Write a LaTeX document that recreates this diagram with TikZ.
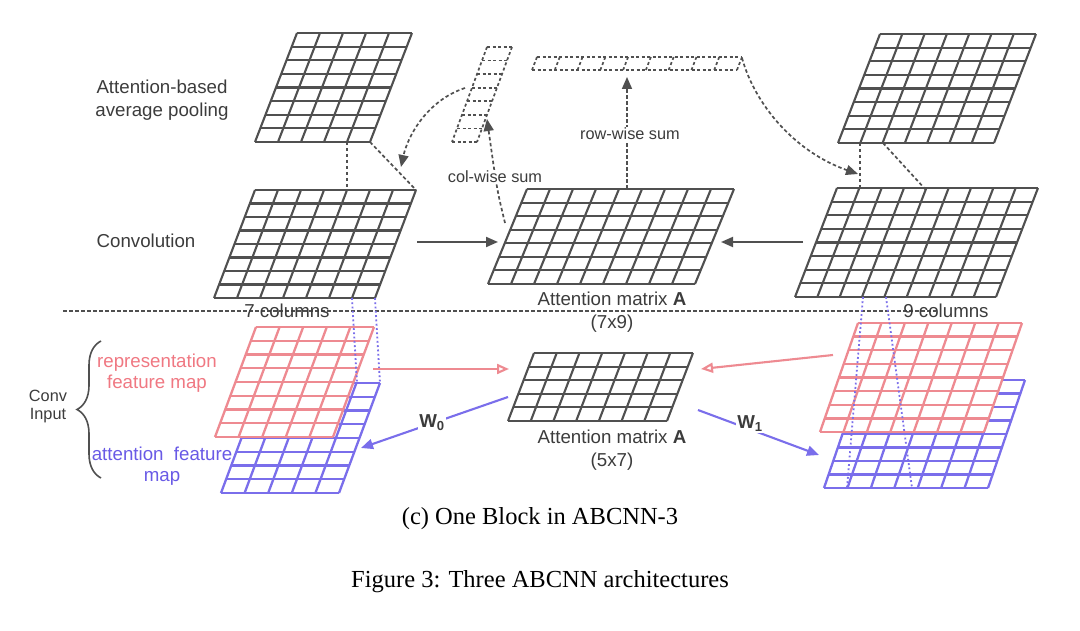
\documentclass[tikz,border=0pt]{standalone}
\usepackage{fontspec}
\setmainfont{Liberation Sans}
\newfontfamily\capfont{Liberation Serif}
\usetikzlibrary{arrows.meta,decorations.pathreplacing}
\definecolor{gline}{RGB}{80,80,80}
\definecolor{gtext}{RGB}{60,60,60}
\definecolor{rline}{RGB}{238,138,145}
\definecolor{bline}{RGB}{122,110,235}
\definecolor{rtext}{RGB}{240,120,130}
\definecolor{btext}{RGB}{105,90,230}
% #1 style, #2 top-left x, #3 top y, #4 bottom-left x, #5 bottom y, #6 width, #7 cols, #8 rows
\newcommand\SkGrid[8]{%
  \fill[white] ({#2},{#3}) -- ({#2+#6},{#3}) -- ({#4+#6},{#5}) -- ({#4},{#5}) -- cycle;
  \foreach \i in {0,...,#8}{\draw[#1] ({#2+(#4-#2)*\i/#8},{#3+(#5-#3)*\i/#8}) -- ++({#6},0);}
  \foreach \j in {0,...,#7}{\draw[#1] ({#2+#6*\j/#7},{#3}) -- ({#4+#6*\j/#7},{#5});}
}
\tikzset{
  gg/.style={draw=gline,line width=2.1bp},
  rg/.style={draw=rline,line width=2.3bp},
  bg/.style={draw=bline,line width=2.3bp},
  dg/.style={draw=gline,line width=1.7bp,dash pattern=on 3bp off 2.5bp},
  dconn/.style={draw=gline,line width=1.7bp,dash pattern=on 3.5bp off 2.5bp},
  bdot/.style={draw=bline,line width=1.8bp,dash pattern=on 1.8bp off 2.5bp},
  tipg/.style={-{Triangle[length=12bp,width=10bp]}},
  lab/.style={font=\fontsize{18.7bp}{23bp}\selectfont,text=gtext,inner sep=1bp,align=center},
  slab/.style={font=\fontsize{16.3bp}{18bp}\selectfont,text=gtext,inner sep=1bp,align=center},
  caplab/.style={font=\capfont\fontsize{24.5bp}{28bp}\selectfont,text=black,inner sep=0pt},
}
\begin{document}
\begin{tikzpicture}[x=1bp,y=-1bp]
\useasboundingbox[fill=white] (0,0) rectangle (1080,631);

% ---- grids ----
\SkGrid{gg}{297}{33}{255}{142}{115}{5}{8}      % pooling left
\SkGrid{gg}{880}{34}{838}{143}{156}{7}{8}      % pooling right
\SkGrid{gg}{255}{190}{214}{298}{161}{7}{8}     % conv left
\SkGrid{gg}{527}{189}{488}{284}{207}{9}{7}     % A 7x9
\SkGrid{gg}{837}{188}{795}{297}{201}{9}{8}     % conv right
\SkGrid{gg}{534}{353}{508}{421}{159}{7}{5}     % A 5x7
\SkGrid{bg}{262}{383}{221}{493}{118}{5}{8}     % attention fm left
\SkGrid{rg}{256}{327}{215}{437}{118}{5}{8}     % representation fm left
\SkGrid{bg}{861}{380}{824}{488}{164}{7}{8}     % attention fm right
\SkGrid{rg}{858}{323}{820}{432}{164}{7}{8}     % representation fm right
% dashed sum vectors
\SkGrid{dg}{487}{47}{452}{142}{25}{1}{7}       % col-wise
\SkGrid{dg}{537}{57}{532}{70}{205}{9}{1}       % row-wise

% ---- coordinates ----
\coordinate (pl4) at (347,142);  \coordinate (cl4) at (347,190);
\coordinate (pl5) at (370,142);  \coordinate (cl7) at (416,190);
\coordinate (pr1) at (860,143);  \coordinate (cr1) at (860,190);
\coordinate (pr2) at (883,143);  \coordinate (cr4) at (926,190);
\coordinate (colA) at (505,223); \coordinate (colV) at (487,119);
\coordinate (colL) at (465,88);  \coordinate (convLtr) at (401,167);
\coordinate (rowA) at (627,189); \coordinate (rowV) at (627,77);
\coordinate (rowR) at (742,58);  \coordinate (convRtl) at (858,174);
\coordinate (cL) at (417,242); \coordinate (aL) at (498,242);
\coordinate (cR) at (803,242); \coordinate (aR) at (721,242);
\coordinate (rL) at (373,369); \coordinate (mL) at (509,369);
\coordinate (rR) at (833,355); \coordinate (mR) at (701,369);
\coordinate (mB0) at (508,397); \coordinate (bL) at (361,448);
\coordinate (mB1) at (698,410); \coordinate (bR) at (819,455);
\coordinate (sepA) at (63,311); \coordinate (sepB) at (936,311);
\coordinate (d1a) at (352,298); \coordinate (d1b) at (357,383);
\coordinate (d2a) at (375,298); \coordinate (d2b) at (380,383);
\coordinate (d3a) at (863,297); \coordinate (d3b) at (847,488);
\coordinate (d4a) at (886,297); \coordinate (d4b) at (912,488);

% ---- dashed connectors ----
\draw[dconn] (pl4) -- (cl4);
\draw[dconn] (pl5) -- (cl7);
\draw[dconn] (pr1) -- (cr1);
\draw[dconn] (pr2) -- (cr4);
\draw[dconn,tipg] (colA) .. controls (497,190) .. (colV);
\draw[dconn,tipg] (colL) .. controls (428,100) and (408,135) .. (convLtr);
\draw[dconn,tipg] (rowA) -- (rowV);
\draw[dconn,tipg] (rowR) .. controls (755,105) and (795,152) .. (convRtl);
\node[slab,fill=white] (colsum) at (495,177) {col-wise sum};
\node[slab,fill=white] (rowsum) at (630,134) {row-wise sum};

% separator
\draw[dconn] (sepA) -- (sepB);
\node[lab] (c7) at (287,311) {7 columns};
\node[lab] (c9) at (946,311) {9 columns};

% dotted column links
\draw[bdot] (d1a) -- (d1b);
\draw[bdot] (d2a) -- (d2b);
\draw[bdot] (d3a) -- (d3b);
\draw[bdot] (d4a) -- (d4b);

% ---- solid arrows ----
\draw[gline,line width=1.9bp,tipg] (cL) -- (aL);
\draw[gline,line width=1.9bp,tipg] (cR) -- (aR);
\draw[rline,line width=2.1bp,-{Triangle[open,length=12bp,width=10bp]}] (rL) -- (mL);
\draw[rline,line width=2.1bp,-{Triangle[open,length=12bp,width=10bp]}] (rR) -- (mR);
\draw[bline,line width=2.1bp,tipg] (mB0) -- (bL);
\draw[bline,line width=2.1bp,tipg] (mB1) -- (bR);
\node[lab,fill=white,font=\fontsize{18.7bp}{22bp}\selectfont\bfseries] (w0) at (432,423) {W\textsubscript{0}};
\node[lab,fill=white,font=\fontsize{18.7bp}{22bp}\selectfont\bfseries] (w1) at (750,424) {W\textsubscript{1}};

% ---- labels ----
\node[lab] (poolT) at (162,100) {Attention-based\\average pooling};
\node[lab] (convT) at (146,241) {Convolution};
\node[lab] (a79) at (612,312) {Attention matrix \textbf{A}\\(7x9)};
\node[lab] (a57) at (612,450) {Attention matrix \textbf{A}\\(5x7)};
\node[lab,text=rtext,font=\fontsize{18.7bp}{21bp}\selectfont] (repT) at (157,373) {representation\\feature map};
\node[lab,text=btext,font=\fontsize{18.7bp}{21bp}\selectfont] (attT) at (162,466) {attention\ \ feature\\map};
\node[slab] (convin) at (48,406) {Conv\\Input};
\draw[gline,line width=1.6bp,decorate,decoration={brace,amplitude=24bp}] (101,478) -- (101,341);

% ---- captions ----
\node[caplab] (cap1) at (540,519) {(c) One Block in ABCNN-3};
\node[caplab] (cap2) at (540,582) {Figure 3: Three ABCNN architectures};
\end{tikzpicture}
\end{document}
